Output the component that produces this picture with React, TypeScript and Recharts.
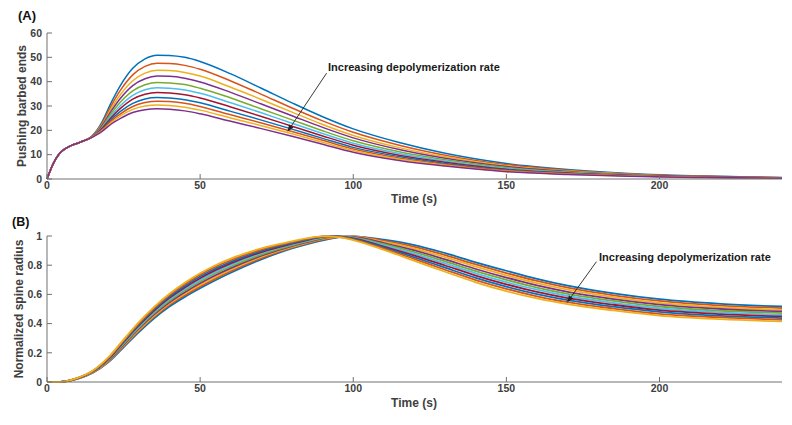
import { LineChart, Line, XAxis, YAxis, ReferenceLine } from 'recharts';

const COLORS = ['#0072BD', '#D95319', '#EDB120', '#7E2F8E', '#77AC30', '#4DBEEE', '#A2142F'];
const FONT = '"Liberation Sans", Arial, Helvetica, sans-serif';

// panel A: pushing barbed ends vs time
const timeA = [0, 2, 4, 6, 8, 10, 12, 14, 16, 18, 21, 24, 28, 32, 36, 40, 45, 50, 60, 70, 80, 90, 100, 115, 130, 150, 170, 190, 215, 240];
const riseA = [0, 6.2, 10.4, 12.5, 13.8, 14.7, 15.7];
const seriesA = [
  [...riseA, 16.9, 19.5, 23.5, 31.5, 38.5, 45.5, 49.4, 50.9, 50.8, 50.0, 48.3, 43.2, 37.3, 31.3, 25.6, 20.6, 15.0, 10.6, 6.4, 3.9, 2.3, 1.2, 0.6],
  [...riseA, 16.9, 19.3, 22.9, 30.2, 36.5, 42.8, 46.3, 47.6, 47.5, 46.7, 45.1, 40.3, 34.8, 29.2, 23.9, 19.2, 13.9, 9.8, 5.9, 3.6, 2.1, 1.1, 0.56],
  [...riseA, 16.8, 19.1, 22.4, 29.0, 34.7, 40.4, 43.5, 44.7, 44.6, 43.8, 42.3, 37.7, 32.7, 27.5, 22.4, 17.9, 12.9, 9.1, 5.4, 3.3, 2.0, 1.0, 0.5],
  [...riseA, 16.8, 18.9, 22.0, 28.0, 33.2, 38.4, 41.2, 42.3, 42.2, 41.4, 39.9, 35.6, 30.8, 26.0, 21.2, 16.9, 12.1, 8.5, 5.1, 3.1, 1.8, 1.0, 0.5],
  [...riseA, 16.8, 18.7, 21.5, 27.0, 31.6, 36.2, 38.7, 39.7, 39.5, 38.8, 37.3, 33.3, 28.8, 24.3, 19.8, 15.7, 11.2, 7.9, 4.7, 2.9, 1.7, 0.9, 0.45],
  [...riseA, 16.8, 18.6, 21.1, 26.1, 30.2, 34.4, 36.7, 37.5, 37.3, 36.6, 35.2, 31.3, 27.2, 22.9, 18.7, 14.7, 10.5, 7.4, 4.3, 2.7, 1.6, 0.83, 0.42],
  [...riseA, 16.8, 18.5, 20.8, 25.3, 29.0, 32.8, 34.8, 35.5, 35.3, 34.6, 33.3, 29.6, 25.7, 21.7, 17.7, 13.9, 9.8, 6.9, 4.0, 2.5, 1.5, 0.8, 0.4],
  [...riseA, 16.7, 18.3, 20.4, 24.5, 27.8, 31.1, 32.9, 33.5, 33.3, 32.6, 31.3, 27.8, 24.2, 20.5, 16.7, 13.0, 9.2, 6.4, 3.7, 2.3, 1.35, 0.73, 0.36],
  [...riseA, 16.7, 18.2, 20.2, 23.9, 26.8, 29.8, 31.4, 32.0, 31.8, 31.1, 29.8, 26.4, 23.0, 19.5, 15.9, 12.3, 8.6, 6.0, 3.5, 2.2, 1.3, 0.7, 0.34],
  [...riseA, 16.7, 18.1, 19.9, 23.2, 25.9, 28.6, 30.0, 30.4, 30.2, 29.5, 28.3, 25.1, 21.9, 18.6, 15.1, 11.7, 8.1, 5.7, 3.2, 2.0, 1.2, 0.64, 0.32],
  [...riseA, 16.7, 18.0, 19.6, 22.6, 24.9, 27.3, 28.5, 28.9, 28.7, 28.0, 26.8, 23.7, 20.7, 17.6, 14.3, 11.0, 7.6, 5.3, 3.0, 1.9, 1.1, 0.6, 0.3],
];

// panel B: normalized spine radius vs time
const timeB = [0, 3, 6, 10, 15, 20, 25, 30, 35, 40, 45, 50, 55, 60, 70, 80, 85, 90, 95, 100, 110, 120, 130, 140, 150, 160, 170, 185, 200, 220, 240];
const seriesB = [
  [0, 0, 0.004, 0.022, 0.064, 0.135, 0.238, 0.342, 0.437, 0.517, 0.583, 0.642, 0.697, 0.748, 0.84, 0.915, 0.945, 0.97, 0.99, 0.998, 0.975, 0.938, 0.883, 0.82, 0.762, 0.707, 0.66, 0.607, 0.567, 0.535, 0.517],
  [0, 0, 0.004, 0.023, 0.066, 0.139, 0.244, 0.35, 0.446, 0.527, 0.594, 0.653, 0.708, 0.759, 0.848, 0.92, 0.949, 0.975, 0.993, 0.998, 0.967, 0.926, 0.869, 0.805, 0.746, 0.692, 0.646, 0.594, 0.555, 0.523, 0.506],
  [0, 0, 0.004, 0.023, 0.067, 0.142, 0.25, 0.357, 0.454, 0.537, 0.605, 0.665, 0.72, 0.77, 0.857, 0.926, 0.954, 0.98, 0.995, 0.996, 0.959, 0.914, 0.855, 0.79, 0.731, 0.677, 0.632, 0.581, 0.542, 0.512, 0.494],
  [0, 0, 0.004, 0.024, 0.069, 0.146, 0.255, 0.365, 0.463, 0.546, 0.615, 0.676, 0.731, 0.78, 0.865, 0.931, 0.958, 0.984, 0.997, 0.993, 0.952, 0.902, 0.84, 0.774, 0.715, 0.662, 0.618, 0.568, 0.53, 0.5, 0.483],
  [0, 0, 0.004, 0.025, 0.07, 0.15, 0.261, 0.372, 0.472, 0.556, 0.626, 0.688, 0.743, 0.791, 0.873, 0.936, 0.963, 0.988, 0.998, 0.99, 0.944, 0.89, 0.826, 0.759, 0.7, 0.647, 0.604, 0.555, 0.517, 0.488, 0.472],
  [0, 0, 0.005, 0.025, 0.072, 0.153, 0.267, 0.38, 0.48, 0.566, 0.637, 0.699, 0.754, 0.802, 0.882, 0.942, 0.967, 0.991, 0.998, 0.987, 0.936, 0.878, 0.812, 0.744, 0.684, 0.632, 0.589, 0.542, 0.505, 0.477, 0.46],
  [0, 0, 0.005, 0.026, 0.073, 0.157, 0.273, 0.387, 0.489, 0.576, 0.648, 0.711, 0.766, 0.813, 0.89, 0.947, 0.972, 0.994, 0.998, 0.984, 0.928, 0.866, 0.798, 0.729, 0.669, 0.617, 0.575, 0.529, 0.492, 0.465, 0.449],
  [0, 0, 0.005, 0.027, 0.075, 0.161, 0.278, 0.395, 0.498, 0.585, 0.658, 0.722, 0.777, 0.823, 0.898, 0.952, 0.976, 0.996, 0.997, 0.98, 0.921, 0.854, 0.783, 0.713, 0.653, 0.602, 0.561, 0.516, 0.48, 0.453, 0.438],
  [0, 0, 0.005, 0.027, 0.076, 0.164, 0.284, 0.402, 0.506, 0.595, 0.669, 0.734, 0.789, 0.834, 0.907, 0.958, 0.981, 0.998, 0.995, 0.976, 0.913, 0.842, 0.769, 0.698, 0.638, 0.587, 0.547, 0.503, 0.467, 0.442, 0.426],
  [0, 0, 0.005, 0.028, 0.078, 0.168, 0.29, 0.41, 0.515, 0.605, 0.68, 0.745, 0.8, 0.845, 0.915, 0.963, 0.985, 0.998, 0.993, 0.972, 0.905, 0.83, 0.755, 0.683, 0.622, 0.572, 0.533, 0.49, 0.455, 0.43, 0.415],
];

const xTicks = [0, 50, 100, 150, 200];
const yTicksA = [0, 10, 20, 30, 40, 50, 60];
const yTicksB = [0, 0.2, 0.4, 0.6, 0.8, 1];

// annotation arrows (tail -> tip), in data units
const arrowA = [{ x: 91.3, y: 43.5 }, { x: 78.5, y: 19.4 }];
const arrowB = [{ x: 179.4, y: 0.824 }, { x: 169.8, y: 0.544 }];

const rowsA = timeA.map((t, i) => {
  const r: Record<string, number> = { t };
  seriesA.forEach((s, k) => (r['s' + k] = s[i]));
  return r;
});
const rowsB = timeB.map((t, i) => {
  const r: Record<string, number> = { t };
  seriesB.forEach((s, k) => (r['s' + k] = s[i]));
  return r;
});

const AXIS = '#707070';
const tickStyle = { fill: '#404040', fontSize: 10.5, fontWeight: 'bold', fontFamily: FONT };

function Arrow(props: any) {
  const { x1, y1, x2, y2 } = props;
  const a = Math.atan2(y2 - y1, x2 - x1);
  const bx = x2 - 7 * Math.cos(a);
  const by = y2 - 7 * Math.sin(a);
  const px = -Math.sin(a) * 2.6;
  const py = Math.cos(a) * 2.6;
  return (
    <g>
      <line x1={x1} y1={y1} x2={bx} y2={by} stroke="#222" strokeWidth={0.9} />
      <polygon points={`${x2},${y2} ${bx + px},${by + py} ${bx - px},${by - py}`} fill="#222" />
    </g>
  );
}

function Panel({ rows, count, yTicks, yMax, arrow, top, height, bottom, strokeWidth }: any) {
  return (
    <LineChart width={792} height={height} data={rows} margin={{ top, right: 10, bottom: 0, left: 0 }}>
      <XAxis dataKey="t" type="number" domain={[0, 240]} ticks={xTicks} interval={0} height={bottom}
        stroke={AXIS} tickSize={-5} tickMargin={8} tick={tickStyle} />
      <XAxis xAxisId="top" orientation="top" dataKey="t" type="number" domain={[0, 240]} ticks={xTicks} interval={0}
        height={0} stroke={AXIS} tickSize={-5} tick={false} />
      <YAxis type="number" domain={[0, yMax]} ticks={yTicks} interval={0} width={47}
        stroke={AXIS} tickSize={-5} tickMargin={10} tick={tickStyle} />
      <YAxis yAxisId="right" orientation="right" type="number" domain={[0, yMax]} ticks={yTicks} interval={0}
        width={0} stroke={AXIS} tickSize={-5} tick={false} />
      {Array.from({ length: count }, (_, k) => (
        <Line key={k} dataKey={'s' + k} type="monotone" stroke={COLORS[k % COLORS.length]}
          strokeWidth={strokeWidth} dot={false} isAnimationActive={false} />
      ))}
      <ReferenceLine segment={arrow} shape={Arrow} ifOverflow="visible" />
    </LineChart>
  );
}

const text = (extra: any) => ({
  position: 'absolute' as const,
  fontFamily: FONT,
  fontWeight: 'bold' as const,
  whiteSpace: 'nowrap' as const,
  lineHeight: 1,
  ...extra,
});

export default function App() {
  return (
    <div style={{ position: 'absolute', left: 0, top: 0, width: 792, height: 425, background: '#fff', overflow: 'hidden' }}>
      <div style={{ position: 'absolute', left: 0, top: 0 }}>
        <Panel rows={rowsA} count={seriesA.length} yTicks={yTicksA} yMax={60} arrow={arrowA}
          top={33} height={210} bottom={31} strokeWidth={1.5} />
      </div>
      <div style={{ position: 'absolute', left: 0, top: 210 }}>
        <Panel rows={rowsB} count={seriesB.length} yTicks={yTicksB} yMax={1} arrow={arrowB}
          top={26} height={215} bottom={43} strokeWidth={1.8} />
      </div>

      <div style={text({ left: 18, top: 9, fontSize: 13, color: '#111' })}>(A)</div>
      <div style={text({ left: 12, top: 216, fontSize: 12.5, color: '#111' })}>(B)</div>

      <div style={text({ left: 22, top: 106, fontSize: 12, color: '#404040', transform: 'translate(-50%, -50%) rotate(-90deg)' })}>
        Pushing barbed ends
      </div>
      <div style={text({ left: 19, top: 309, fontSize: 12, color: '#404040', transform: 'translate(-50%, -50%) rotate(-90deg)' })}>
        Normalized spine radius
      </div>

      <div style={text({ left: 414, top: 199, fontSize: 12, color: '#404040', transform: 'translate(-50%, -50%)' })}>Time (s)</div>
      <div style={text({ left: 414, top: 403, fontSize: 12, color: '#404040', transform: 'translate(-50%, -50%)' })}>Time (s)</div>

      <div style={text({ left: 328, top: 67, fontSize: 11, color: '#1a1a1a', transform: 'translateY(-50%)' })}>
        Increasing depolymerization rate
      </div>
      <div style={text({ left: 599, top: 257, fontSize: 11, color: '#1a1a1a', transform: 'translateY(-50%)' })}>
        Increasing depolymerization rate
      </div>
    </div>
  );
}
